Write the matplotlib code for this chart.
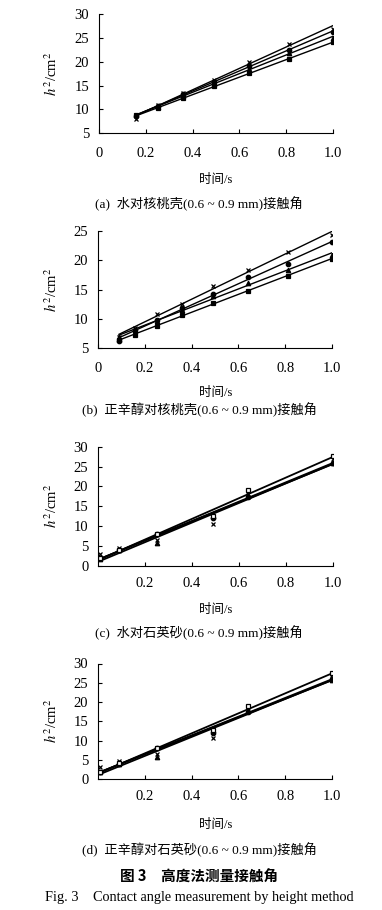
import numpy as np
import matplotlib.pyplot as plt

plt.rcParams['font.family'] = ['Liberation Serif', 'Noto Sans CJK SC']
plt.rcParams['mathtext.fontset'] = 'stix'

# (a) water / walnut shell
x_a = [0.16, 0.25, 0.36, 0.49, 0.64, 0.81, 1.0]
a_cross = [8.0, 10.9, 13.5, 16.1, 20.0, 23.8, 26.9]
a_circle = [8.6, 10.6, 13.2, 15.8, 19.2, 22.5, 26.3]
a_tri = [8.8, 10.5, 12.8, 15.4, 18.5, 21.8, 25.1]
a_square = [8.7, 10.2, 12.3, 14.8, 17.6, 20.6, 24.1]

# (b) n-octanol / walnut shell
x_b = [0.09, 0.16, 0.25, 0.36, 0.49, 0.64, 0.81, 1.0]
b_cross = [7.0, 8.4, 10.8, 12.5, 15.7, 18.3, 21.5, 24.3]
b_circle = [6.3, 8.2, 9.8, 11.8, 14.3, 17.1, 19.4, 23.1]
b_square = [7.0, 8.2, 9.6, 11.5, 13.9, 16.1, 18.3, 20.9]
b_tri = [6.5, 7.2, 8.8, 10.7, 12.7, 14.8, 17.3, 20.3]

# (c) water / quartz sand
x_c = [0.01, 0.09, 0.25, 0.49, 0.64, 1.0]
c_cross = [3.1, 4.6, 6.6, 10.6, 18.0, 27.0]
c_circle = [1.9, 4.0, 8.0, 12.0, 17.3, 26.0]
c_tri = [1.8, 3.9, 5.8, 12.6, 17.6, 25.8]
c_open = [1.9, 4.1, 8.0, 12.6, 19.0, 27.6]

# (d) n-octanol / quartz sand
x_d = [0.01, 0.09, 0.25, 0.49, 0.64, 1.0]
d_cross = [3.1, 4.6, 6.6, 10.6, 18.0, 27.0]
d_circle = [1.9, 4.0, 8.0, 12.0, 17.3, 26.0]
d_tri = [1.8, 3.9, 5.8, 12.6, 17.6, 25.8]
d_open = [1.9, 4.1, 8.0, 12.6, 19.0, 27.6]

W, H = 382, 910
fig = plt.figure(figsize=(W / 100, H / 100), dpi=100)


def panel(px_left, px_right, px_top, px_bot, x, series, marks, ylim, yticks,
          xticks, xtlabels, xpad, lw, cap, cap_y, xl_y):
    ax = fig.add_axes([px_left / W, 1 - px_bot / H,
                       (px_right - px_left) / W, (px_bot - px_top) / H])
    for y, (m, filled) in zip(series, marks):
        y = np.array(y)
        k, b = np.polyfit(x, y, 1)
        xs = np.array([x[0], x[-1]])
        ax.plot(xs, k * xs + b, color='black', lw=lw)
        ax.plot(x, y, ls='none', marker=m, color='black', ms=3.2,
                mfc='black' if filled else 'white', mew=0.9)
    ax.set_xlim(0, 1.0)
    ax.set_ylim(*ylim)
    ax.set_yticks(yticks)
    ax.set_xticks(xticks)
    ax.set_xticklabels(xtlabels)
    for s in ['top', 'right']:
        ax.spines[s].set_visible(False)
    for s in ['left', 'bottom']:
        ax.spines[s].set_linewidth(0.8)
    ax.tick_params(axis='x', direction='in', length=3, width=0.8,
                   labelsize=10.5, pad=xpad)
    ax.tick_params(axis='y', direction='in', length=3, width=0.8,
                   labelsize=10.5, pad=7)
    ax.patch.set_visible(False)
    fig.text(52 / W, 1 - (px_top + px_bot) / 2 / H, r'$h^2$/cm$^2$',
             rotation=90, ha='center', va='center', fontsize=10.5)
    fig.text(216 / W, 1 - xl_y / H, '时间/s', ha='center', va='center',
             fontsize=9)
    fig.text(199 / W, 1 - cap_y / H, cap, ha='center', va='center',
             fontsize=9.5)
    return ax


ticks_full = [0, 0.2, 0.4, 0.6, 0.8, 1.0]
lab_full = ['0', '0.2', '0.4', '0.6', '0.8', '1.0']
ticks_c = [0.2, 0.4, 0.6, 0.8, 1.0]
lab_c = ['0.2', '0.4', '0.6', '0.8', '1.0']

filled4 = [('x', True), ('o', True), ('^', True), ('s', True)]
open4 = [('x', True), ('o', True), ('^', True), ('s', False)]

panel(99, 333, 14.3, 133, x_a, [a_cross, a_circle, a_tri, a_square], filled4,
      (5, 30), [5, 10, 15, 20, 25, 30], ticks_full, lab_full, 10, 1.0,
      '(a)  水对核桃壳(0.6 ~ 0.9 mm)接触角', 204, 180)
panel(98, 332, 231, 348.3, x_b, [b_cross, b_circle, b_square, b_tri], filled4,
      (5, 25), [5, 10, 15, 20, 25], ticks_full, lab_full, 10, 1.0,
      '(b)  正辛醇对核桃壳(0.6 ~ 0.9 mm)接触角', 410, 393)
panel(98, 333, 446.7, 566, x_c, [c_cross, c_circle, c_tri, c_open], open4,
      (0, 30), [0, 5, 10, 15, 20, 25, 30], ticks_c, lab_c, 8, 1.3,
      '(c)  水对石英砂(0.6 ~ 0.9 mm)接触角', 633, 610)
panel(98, 332, 663.5, 779, x_d, [d_cross, d_circle, d_tri, d_open], open4,
      (0, 30), [0, 5, 10, 15, 20, 25, 30], ticks_c, lab_c, 8, 1.3,
      '(d)  正辛醇对石英砂(0.6 ~ 0.9 mm)接触角', 850, 825)

fig.text(199 / W, 1 - 877 / H, '图 3　高度法测量接触角', ha='center',
         va='center', fontsize=10.5, fontweight='bold',
         family=['Noto Sans CJK SC', 'DejaVu Sans'])
fig.text(199 / W, 1 - 897 / H, 'Fig. 3    Contact angle measurement by height method',
         ha='center', va='center', fontsize=10.3)

fig.savefig('out.png', dpi=100, facecolor='white')
